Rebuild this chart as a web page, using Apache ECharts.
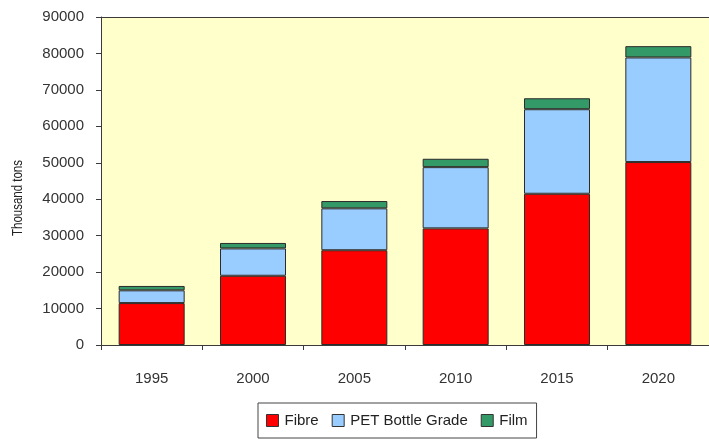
<!DOCTYPE html>
<html>
<head>
<meta charset="utf-8">
<script src="https://cdn.jsdelivr.net/npm/echarts@6/dist/echarts.min.js"></script>
<style>
  html, body { margin: 0; padding: 0; background: #ffffff; }
  #chart { width: 709px; height: 439px; }
</style>
</head>
<body>
<div id="chart"></div>
<script>
// PET production by end use, thousand tons
const years = ['1995', '2000', '2005', '2010', '2015', '2020'];
const fibre = [11500, 19000, 26000, 32000, 41500, 50200];
const bottleGrade = [3500, 7500, 11500, 16800, 23200, 28700];
const film = [1200, 1500, 2000, 2300, 3000, 3100];
const yTicks = [0, 10000, 20000, 30000, 40000, 50000, 60000, 70000, 80000, 90000];

const font = '"Liberation Sans", Arial, sans-serif';
const barBorder = { borderColor: '#2b2b2b', borderWidth: 1 };
const axisColor = '#3a3a3a';

const chart = echarts.init(document.getElementById('chart'), null, { renderer: 'canvas' });

function stackSeries(name, data, color) {
  return {
    name: name,
    type: 'bar',
    stack: 'total',
    data: data,
    barWidth: 66,
    itemStyle: Object.assign({ color: color }, barBorder),
    emphasis: { disabled: true },
    animation: false
  };
}

chart.setOption({
  animation: false,
  backgroundColor: '#ffffff',
  textStyle: { fontFamily: font },
  grid: {
    left: 101, top: 17, width: 611, height: 328,
    show: true,
    backgroundColor: '#ffffcc',
    borderWidth: 0
  },
  legend: {
    bottom: 1,
    left: 258,
    padding: [10, 9, 10, 8],
    itemGap: 13,
    itemWidth: 12,
    itemHeight: 12,
    borderColor: '#444',
    borderWidth: 1,
    icon: 'rect',
    textStyle: { fontFamily: font, fontSize: 15, color: '#222', padding: [0, 0, 0, 1] },
    data: [
      { name: 'Fibre', itemStyle: { borderColor: '#333', borderWidth: 1 } },
      { name: 'PET Bottle Grade', itemStyle: { borderColor: '#333', borderWidth: 1 } },
      { name: 'Film', itemStyle: { borderColor: '#333', borderWidth: 1 } }
    ]
  },
  xAxis: [{
    type: 'category',
    data: years,
    axisLine: { lineStyle: { color: axisColor, width: 1 } },
    axisTick: { show: true, length: 5, lineStyle: { color: axisColor } },
    axisLabel: { fontFamily: font, fontSize: 15, color: '#333', margin: 26 }
  }, {
    // plain frame line along the top of the plot area
    type: 'category',
    position: 'top',
    data: years,
    axisLine: { lineStyle: { color: axisColor, width: 1 } },
    axisTick: { show: false },
    axisLabel: { show: false }
  }],
  yAxis: {
    type: 'value',
    min: yTicks[0],
    max: yTicks[yTicks.length - 1],
    interval: yTicks[1] - yTicks[0],
    splitLine: { show: false },
    axisLine: { show: true, lineStyle: { color: axisColor, width: 1 } },
    axisTick: { show: true, length: 5, lineStyle: { color: axisColor } },
    axisLabel: {
      fontFamily: font, fontSize: 15, color: '#333', margin: 17,
      formatter: v => String(v)
    }
  },
  graphic: [{
    // condensed vertical axis title
    type: 'text',
    x: 18,
    y: 198,
    rotation: Math.PI / 2,
    scaleX: 0.82,
    style: {
      text: 'Thousand tons',
      fontFamily: font,
      fontSize: 14,
      fill: '#222',
      align: 'center',
      verticalAlign: 'middle'
    }
  }],
  series: [
    stackSeries('Fibre', fibre, '#ff0000'),
    stackSeries('PET Bottle Grade', bottleGrade, '#99ccff'),
    stackSeries('Film', film, '#339966')
  ]
});
</script>
</body>
</html>
